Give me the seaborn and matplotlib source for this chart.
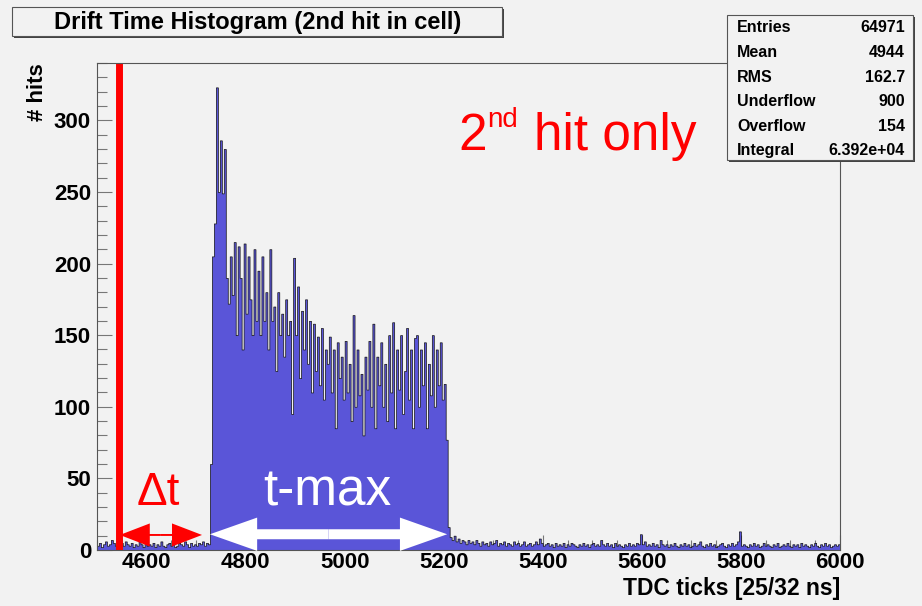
import numpy as np
import pandas as pd
import matplotlib.pyplot as plt
import seaborn as sns
from matplotlib.patches import Rectangle
from matplotlib.ticker import MultipleLocator

# histogram, bins of 4 TDC ticks
bin_width = 4
pre_start = 4500
pre_counts = [3, 5, 2, 4, 6, 3, 4, 7, 5, 3, 4, 2, 5, 3, 6, 4, 3, 5, 2, 4,
              3, 6, 4, 2, 5, 3, 4, 3, 5, 2, 4, 3, 6, 3, 2, 4, 5, 3, 4, 2,
              3, 5, 4, 3, 6, 4, 2, 5, 3, 4, 3, 5, 4, 6, 3, 5, 4]
signal_start = 4728
signal_counts = [60, 205, 228, 323, 250, 286, 249, 280, 190, 172,
                 205, 178, 215, 150, 212, 190, 140, 214, 165, 205,
                 175, 150, 210, 160, 195, 150, 205, 160, 180, 140,
                 210, 160, 170, 125, 180, 150, 165, 135, 175, 150,
                 160, 95, 204, 150, 184, 120, 167, 140, 175, 130,
                 160, 110, 158, 125, 149, 115, 155, 105, 140, 130,
                 149, 110, 140, 85, 145, 120, 135, 105, 146, 110,
                 130, 90, 164, 100, 140, 108, 123, 80, 135, 112,
                 146, 100, 158, 85, 135, 115, 145, 100, 130, 90,
                 150, 110, 159, 85, 140, 112, 150, 95, 125, 155,
                 105, 140, 85, 148, 150, 100, 140, 115, 145, 85,
                 130, 108, 150, 100, 140, 115, 145, 105, 116, 77,
                 16]
post_start = 5212
post_counts = [9, 7, 10, 6, 8, 5, 7, 6, 4, 7, 5, 6, 4, 7, 5, 3, 6, 4, 5, 3,
               6, 4, 5, 7, 3, 5, 4, 6, 3, 5, 4, 3, 6, 4, 5, 3, 4, 6, 3, 4,
               5, 3, 4, 6, 4, 8, 5, 3, 4, 5, 3, 4, 2, 5, 3, 4, 3, 5, 2, 4,
               3, 5, 4, 3, 2, 4, 3, 5, 3, 4, 2, 4, 5, 3, 4, 3, 7, 4, 3, 5,
               3, 4, 2, 5, 3, 4, 3, 2, 4, 3, 5, 3, 4, 3, 5, 4, 11, 4, 6, 3,
               4, 3, 5, 3, 4, 2, 7, 4, 3, 4, 2, 4, 3, 5, 3, 2, 4, 3, 5, 3,
               4, 2, 3, 5, 3, 4, 6, 3, 2, 4, 3, 5, 3, 4, 2, 3, 4, 5, 3, 2,
               4, 3, 5, 3, 4, 6, 13, 3, 4, 3, 2, 4, 3, 5, 3, 4, 2, 3, 5, 3,
               4, 3, 2, 4, 3, 5, 2, 3, 4, 3, 5, 3, 2, 4, 3, 4, 2, 5, 3, 4,
               3, 2, 4, 3, 5, 3, 2, 4, 3, 5, 3, 4, 2, 3, 4, 3, 4]

stat_names = ["Entries", "Mean", "RMS", "Underflow", "Overflow", "Integral"]
stat_values = ["64971", "4944", "162.7", "900", "154", "6.392e+04"]

x_ticks = [4600, 4800, 5000, 5200, 5400, 5600, 5800, 6000]
y_ticks = [0, 50, 100, 150, 200, 250, 300]

t0_line = 4544
dt_range = [4546, 4712]
tmax_range = [4728, 5207]

bg = "#f2f2f2"
blue = "#5a55d8"

sns.set_style("ticks")
plt.rcParams["font.family"] = ["Liberation Sans", "DejaVu Sans"]
plt.rcParams["text.color"] = "black"
plt.rcParams["axes.labelcolor"] = "black"

counts = pre_counts + signal_counts + post_counts
centers = pre_start + bin_width * np.arange(len(counts)) + bin_width / 2
hist = pd.DataFrame({"tick": centers, "hits": counts})

fig = plt.figure(figsize=(9.22, 6.06), dpi=100, facecolor=bg)
ax = fig.add_axes([0.1052, 0.0924, 0.8058, 0.8036])
ax.set_facecolor(bg)

sns.histplot(data=hist, x="tick", weights="hits", binwidth=bin_width,
             binrange=(pre_start, pre_start + bin_width * len(counts)),
             element="step", fill=True, color=blue, edgecolor="#111111",
             linewidth=0.5, alpha=1, ax=ax)

ax.set_xlim(4500, 6000)
ax.set_ylim(0, 340)
ax.set_xticks(x_ticks)
ax.set_yticks(y_ticks)
ax.xaxis.set_minor_locator(MultipleLocator(50))
ax.yaxis.set_minor_locator(MultipleLocator(10))
ax.tick_params(which="both", direction="in", color="#777777", labelcolor="black",
               top=False, right=False)
ax.tick_params(which="major", length=11, width=0.8, labelsize=16)
ax.tick_params(axis="x", which="major", pad=1.5)
ax.tick_params(axis="y", which="major", pad=4.3)
ax.tick_params(which="minor", length=7, width=0.8)
for lab in ax.get_xticklabels() + ax.get_yticklabels():
    lab.set_fontweight("bold")
for s in ax.spines.values():
    s.set_visible(True)
    s.set_color("#555555")
    s.set_linewidth(0.8)

ax.set_xlabel("TDC ticks [25/32 ns]", fontsize=16.5, fontweight="bold", loc="right")
ax.xaxis.label.set_va("baseline")
ax.xaxis.set_label_coords(1.0, -0.0924)
ax.set_ylabel("# hits", fontsize=16, fontweight="bold", loc="top")
ax.yaxis.set_label_coords(-0.066, 1.0)

# red start line and the two arrows
ax.axvline(t0_line, color="red", lw=5)
dt_mid = sum(dt_range) / 2
for end in dt_range:
    ax.annotate("", xy=(end, 10.5), xytext=(dt_mid, 10.5),
                arrowprops=dict(arrowstyle="simple,head_length=21.6,head_width=16.6,tail_width=1.4",
                                mutation_scale=1, fc="red", ec="none", lw=0,
                                shrinkA=0, shrinkB=0))
tmax_mid = sum(tmax_range) / 2
for end in tmax_range:
    ax.annotate("", xy=(end, 11), xytext=(tmax_mid, 11),
                arrowprops=dict(arrowstyle="simple,head_length=34,head_width=24,tail_width=7.2",
                                mutation_scale=1, fc="white", ec="none", lw=0,
                                shrinkA=0, shrinkB=0))

ax.text(4581, 31.4, "\u0394t", color="red", fontsize=33, ha="left", va="baseline")
ax.text(4966, 31.4, "t-max", color="white", fontsize=37, ha="center", va="baseline")
ax.text(5229, 279, "2", color="red", fontsize=37, ha="left", va="baseline")
ax.text(5287, 295, "nd", color="red", fontsize=20, ha="left", va="baseline")
ax.text(5382, 279, "hit only", color="red", fontsize=37, ha="left", va="baseline")

W, H = 922, 606


def box(x0, y0, x1, y1):
    # ROOT style pave with a dark shadow
    fig.add_artist(Rectangle(((x0 + 2) / W, 1 - (y1 + 2) / H), (x1 - x0) / W, (y1 - y0) / H,
                             transform=fig.transFigure, facecolor="#444444", edgecolor="none"))
    fig.add_artist(Rectangle((x0 / W, 1 - y1 / H), (x1 - x0) / W, (y1 - y0) / H,
                             transform=fig.transFigure, facecolor=bg, edgecolor="#555555", lw=0.8))


box(12, 7, 502, 36)
fig.text(258 / W, 1 - 22 / H, "Drift Time Histogram (2nd hit in cell)", fontsize=17,
         fontweight="bold", ha="center", va="center", color="black")

box(727, 15, 913, 160)
baselines = [32, 57, 82, 106, 131, 155]
for name, val, yb in zip(stat_names, stat_values, baselines):
    fig.text(737 / W, 1 - yb / H, name, fontsize=11.5, fontweight="bold", ha="left",
             va="baseline", color="black")
    fig.text(905 / W, 1 - yb / H, val, fontsize=11.5, fontweight="bold", ha="right",
             va="baseline", color="black")

fig.savefig("out.png", dpi=100, facecolor=bg)
